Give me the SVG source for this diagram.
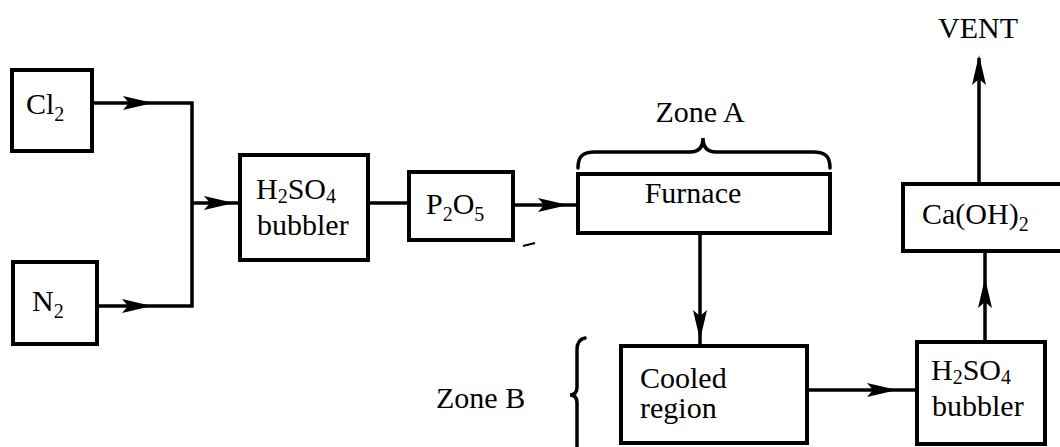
<svg xmlns="http://www.w3.org/2000/svg" xmlns:xlink="http://www.w3.org/1999/xlink" width="1060" height="447" viewBox="0 0 1060 447">
<style>
.box{fill:#fff;stroke:#000;stroke-width:4}
.t{font-family:"Liberation Serif","Times New Roman",serif;font-size:30px;fill:#000}
.s{font-size:20px}
.ln{fill:none;stroke:#000;stroke-width:3.5}
.br{fill:none;stroke:#000;stroke-width:3.5;stroke-linecap:round}
</style>
<defs>
<path id="ah" d="M0,0 L-30,-7 L-24,0 L-30,7 Z" fill="#000"/>
</defs>
<rect width="1060" height="447" fill="#fff"/>
<g id="connectors">
<path class="ln" d="M92,103 H192 V306 H97"/>
<path class="ln" d="M192,203 H240"/>
<path class="ln" d="M368,203 H409"/>
<path class="ln" d="M513,205 H578"/>
<path class="ln" d="M700,233 V346"/>
<path class="ln" d="M807,390 H917"/>
<path class="ln" d="M985,342 V251"/>
<path class="ln" d="M979,184 V58"/>
<use xlink:href="#ah" href="#ah" transform="translate(153,103)"/>
<use xlink:href="#ah" href="#ah" transform="translate(152,306)"/>
<use xlink:href="#ah" href="#ah" transform="translate(234,203)"/>
<use xlink:href="#ah" href="#ah" transform="translate(568,205)"/>
<use xlink:href="#ah" href="#ah" transform="translate(700,340) rotate(90)"/>
<use xlink:href="#ah" href="#ah" transform="translate(897,390)"/>
<use xlink:href="#ah" href="#ah" transform="translate(985,278) rotate(-90)"/>
<use xlink:href="#ah" href="#ah" transform="translate(979,55) rotate(-90)"/>
</g>
<g id="cl2">
<rect class="box" x="12" y="70" width="80" height="81"/>
<text class="t" x="26" y="114">Cl<tspan class="s" dy="7">2</tspan></text>
</g>
<g id="n2">
<rect class="box" x="13" y="262" width="84" height="82"/>
<text class="t" x="32" y="311">N<tspan class="s" dy="7">2</tspan></text>
</g>
<g id="bubbler1">
<rect class="box" x="240" y="155" width="128" height="105"/>
<text class="t" x="256" y="199">H<tspan class="s" dy="4">2</tspan><tspan dy="-4">SO</tspan><tspan class="s" dy="4">4</tspan><tspan x="257" y="235">bubbler</tspan></text>
</g>
<g id="p2o5">
<rect class="box" x="409" y="172" width="104" height="68"/>
<text class="t" x="426" y="214">P<tspan class="s" dy="7">2</tspan><tspan dy="-7">O</tspan><tspan class="s" dy="7">5</tspan></text>
</g>
<path d="M523,246 L535,243" stroke="#000" stroke-width="2"/>
<g id="furnace">
<rect class="box" x="578" y="174" width="252" height="59"/>
<text class="t" x="693" y="203" text-anchor="middle">Furnace</text>
</g>
<g id="zoneA">
<path class="br" d="M578,168 C578,156 583,152 595,152 L690,152 C699,152 703,147 703,138 C703,147 707,152 716,152 L813,152 C825,152 830,156 830,168"/>
<text class="t" x="700" y="122" text-anchor="middle">Zone A</text>
</g>
<g id="cooled">
<rect class="box" x="621" y="346" width="186" height="97"/>
<text class="t" x="640" y="388">Cooled<tspan x="640" y="418">region</tspan></text>
</g>
<g id="zoneB">
<path class="br" d="M585,338 C579,339 577,343 577,350 L577,387 C577,392 575,395 570,395 C575,395 577,398 577,403 L577,450"/>
<text class="t" x="436" y="408">Zone B</text>
</g>
<g id="bubbler2">
<rect class="box" x="917" y="342" width="128" height="102"/>
<text class="t" x="931" y="380">H<tspan class="s" dy="4">2</tspan><tspan dy="-4">SO</tspan><tspan class="s" dy="4">4</tspan><tspan x="932" y="416">bubbler</tspan></text>
</g>
<g id="caoh2">
<rect class="box" x="903" y="184" width="160" height="67"/>
<text class="t" x="922" y="224">Ca(OH)<tspan class="s" dy="7">2</tspan></text>
</g>
<g id="vent">
<text class="t" x="978" y="38" text-anchor="middle">VENT</text>
</g>
</svg>
